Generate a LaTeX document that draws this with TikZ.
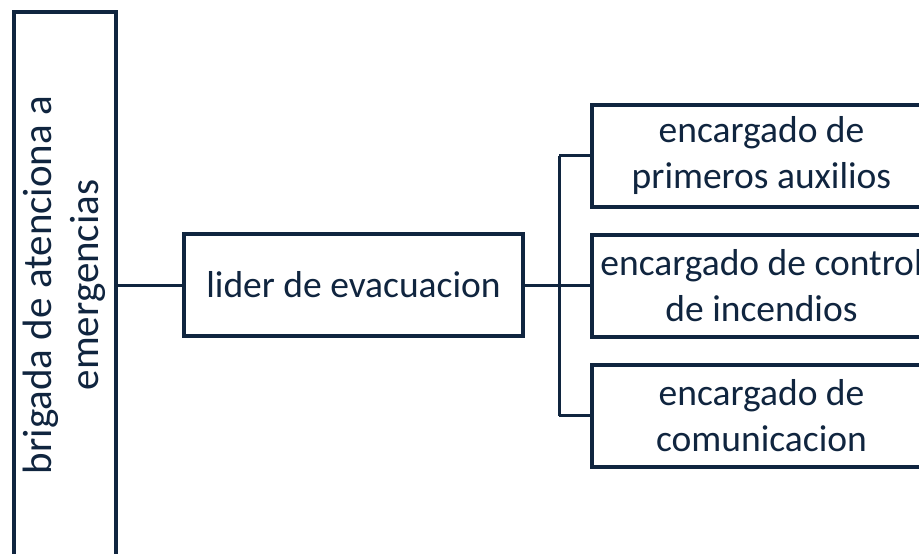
\documentclass[tikz,border=0pt]{standalone}
\usepackage{fontspec}
\setmainfont{Carlito}
\definecolor{navy}{HTML}{10253F}
\begin{document}
\begin{tikzpicture}[x=1pt,y=-1pt,
  box/.style={draw=navy,line width=4pt,fill=white,text=navy,inner sep=0pt,align=center,
    minimum width=339pt,minimum height=102pt,font=\fontsize{37.5}{46}\selectfont},
  conn/.style={draw=navy,line width=3pt}]
\useasboundingbox (0,0) rectangle (919,554);
\clip (0,0) rectangle (919,554);
\node[box,minimum width=102pt,minimum height=546pt] (root) at (64.5,285) {};
\node[rotate=90,text=navy,align=center,font=\fontsize{41}{47}\selectfont] (roottxt) at (root.center) {brigada de atenciona a\\emergencias};
\node[box] (lider) at (353.5,285) {lider de evacuacion};
\node[box] (c1) at (761.5,155.5) {encargado de\\primeros auxilios};
\node[box] (c2) at (761.5,285.5) {encargado de control\\de incendios};
\node[box] (c3) at (761.5,415.5) {encargado de\\comunicacion};
\coordinate (bus) at (559,285);
\draw[conn] (root.east |- lider.west) -- (lider.west);
\draw[conn] (lider.east) -- (bus);
\draw[conn] (bus |- c1.west) -- (bus |- c3.west);
\draw[conn] (bus |- c1.west) -- (c1.west);
\draw[conn] (bus |- c2.west) -- (c2.west);
\draw[conn] (bus |- c3.west) -- (c3.west);
\end{tikzpicture}
\end{document}
